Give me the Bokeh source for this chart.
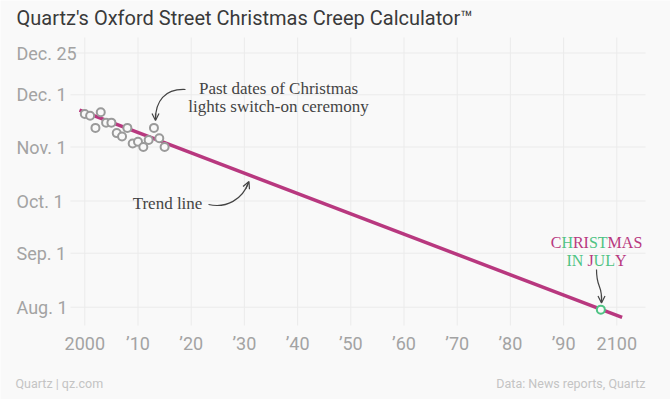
from bokeh.plotting import figure
from bokeh.models import ColumnDataSource, Range1d, Arrow, OpenHead
from bokeh.core.properties import value
from bokeh.embed import file_html
from bokeh.resources import INLINE

# ---------------- data ----------------
years = list(range(2000, 2016))
# day of year (non-leap) of the Oxford Street lights switch-on ceremony
switch_on_day = [324, 323, 316, 325, 319, 319, 313, 311, 316, 307, 308, 305, 309, 316, 310, 305]

trend_years = [1999, 2101]
trend_days = [326.2, 207.1]

july_year = [2097]
july_day = [211.6]

x_ticks = [2000, 2010, 2020, 2030, 2040, 2050, 2060, 2070, 2080, 2090, 2100]
x_tick_labels = ["2000", "\u201910", "\u201920", "\u201930", "\u201940", "\u201950",
                 "\u201960", "\u201970", "\u201980", "\u201990", "2100"]
y_ticks = [213, 244, 274, 305, 335, 359]
y_tick_labels = ["Aug. 1", "Sep. 1", "Oct. 1", "Nov. 1", "Dec. 1", "Dec. 25"]

letters1 = list("CHRISTMAS")
colors1 = ["p", "g", "p", "p", "g", "g", "p", "p", "p"]
letters2 = list("IN JULY")
colors2 = ["g", "g", "g", "p", "g", "g", "p"]

# ---------------- style ----------------
BG = "#f9f9f9"
PINK = "#b8387f"
GREEN = "#4fc384"
GREY_PT = "#9a9a9a"
TXT = "#444444"
TICK = "#a3a3a3"
GRID = "#ebebeb"
SERIF = "Liberation Serif"
W, H = 670, 399


# page-pixel -> data helpers for annotation placement
def dx(px):
    return 2000 + (px - 84.3) / 5.32


def dy(py):
    return 335 - (py - 94.3) / 1.741


p = figure(width=W, height=H, output_backend="svg", toolbar_location=None,
           x_range=Range1d(dx(0), dx(W)), y_range=Range1d(dy(H), dy(0)),
           x_axis_location=None, y_axis_location=None,
           min_border=0, min_border_left=0, min_border_right=0,
           min_border_top=0, min_border_bottom=0)
p.background_fill_color = BG
p.border_fill_color = BG
p.outline_line_color = None
p.xgrid.visible = False
p.ygrid.visible = False

# grid lines over the plotting area
p.segment(x0=x_ticks, x1=x_ticks, y0=[dy(325)] * len(x_ticks), y1=[dy(37)] * len(x_ticks),
          line_color=GRID, line_width=1)
p.segment(x0=[dx(70)] * len(y_ticks), x1=[dx(645)] * len(y_ticks), y0=y_ticks, y1=y_ticks,
          line_color=GRID, line_width=1)

# tick labels
p.text(x=x_ticks, y=[dy(343)] * len(x_ticks), text=x_tick_labels,
       text_font=value("Roboto"), text_font_size="18px", text_color=TICK,
       text_align="center", text_baseline="middle")
p.text(x=[dx(16)] * len(y_ticks), y=y_ticks, text=y_tick_labels,
       text_font=value("Roboto"), text_font_size="18px", text_color=TICK,
       text_align="left", text_baseline="middle")

# trend line
p.line(trend_years, trend_days, line_color=PINK, line_width=3.5)

# past dates
src = ColumnDataSource(dict(year=years, day=switch_on_day))
p.scatter("year", "day", source=src, size=8, line_color=GREY_PT, line_width=2, fill_color=BG)

# christmas in july point
p.scatter(july_year, july_day, size=8, line_color=GREEN, line_width=2, fill_color=BG)

# ---------------- annotations ----------------
p.text(x=[dx(278), dx(278)], y=[dy(88), dy(106)],
       text=["Past dates of Christmas", "lights switch-on ceremony"],
       text_font=value(SERIF), text_font_size="17px", text_color=TXT,
       text_align="center", text_baseline="middle")
p.bezier(x0=[dx(185)], y0=[dy(89)], x1=[dx(155)], y1=[dy(119)],
         cx0=[dx(164)], cy0=[dy(88)], cx1=[dx(155)], cy1=[dy(101)],
         line_color=TXT, line_width=1.2)
p.add_layout(Arrow(x_start=dx(155), y_start=dy(113), x_end=dx(155), y_end=dy(120),
                   line_color=TXT, line_width=1.2,
                   end=OpenHead(size=7, line_color=TXT, line_width=1.2)))

p.text(x=[dx(167)], y=[dy(203)], text=["Trend line"],
       text_font=value(SERIF), text_font_size="17px", text_color=TXT,
       text_align="center", text_baseline="middle")
p.bezier(x0=[dx(208)], y0=[dy(204)], x1=[dx(248)], y1=[dy(182)],
         cx0=[dx(226)], cy0=[dy(208)], cx1=[dx(242)], cy1=[dy(199)],
         line_color=TXT, line_width=1.2)
p.add_layout(Arrow(x_start=dx(245.5), y_start=dy(188), x_end=dx(248.5), y_end=dy(181),
                   line_color=TXT, line_width=1.2,
                   end=OpenHead(size=7, line_color=TXT, line_width=1.2)))

# CHRISTMAS IN JULY with alternating letter colours (Times metrics)
adv = {"C": 667, "H": 722, "R": 667, "I": 333, "S": 556, "T": 611, "M": 889, "A": 722,
       " ": 250, "N": 722, "J": 389, "U": 722, "L": 611, "Y": 722}
fs = 16.0


def letter_rows(letters, cols, py):
    total = sum(adv[c] for c in letters) * fs / 1000
    offs, cum = [], 0.0
    for c in letters:
        offs.append(cum - total / 2)
        cum += adv[c] * fs / 1000
    return dict(x=[dx(596)] * len(letters), y=[dy(py)] * len(letters), text=letters,
                xo=offs, color=[PINK if k == "p" else GREEN for k in cols])


for letters, cols, py in [(letters1, colors1, 242), (letters2, colors2, 259.5)]:
    s = ColumnDataSource(letter_rows(letters, cols, py))
    p.text(x="x", y="y", text="text", x_offset="xo", text_color="color", source=s,
           text_font=value(SERIF), text_font_size="16px",
           text_align="left", text_baseline="middle")

p.bezier(x0=[dx(596)], y0=[dy(269)], x1=[dx(601)], y1=[dy(302)],
         cx0=[dx(596)], cy0=[dy(289)], cx1=[dx(602)], cy1=[dy(283)],
         line_color=TXT, line_width=1.2)
p.add_layout(Arrow(x_start=dx(601), y_start=dy(295), x_end=dx(601), y_end=dy(302.5),
                   line_color=TXT, line_width=1.2,
                   end=OpenHead(size=7, line_color=TXT, line_width=1.2)))

# title and footer
p.text(x=[dx(16)], y=[dy(17)], text=["Quartz's Oxford Street Christmas Creep Calculator\u2122"],
       text_font=value("Roboto"), text_font_size="20px", text_color="#3a3a3a",
       text_align="left", text_baseline="middle")
p.text(x=[dx(15)], y=[dy(383)], text=["Quartz | qz.com"],
       text_font=value("Roboto"), text_font_size="12.5px", text_color="#c4c4c4",
       text_align="left", text_baseline="middle")
p.text(x=[dx(645)], y=[dy(383)], text=["Data: News reports, Quartz"],
       text_font=value("Roboto"), text_font_size="12.5px", text_color="#c4c4c4",
       text_align="right", text_baseline="middle")

open("out.html", "w").write(file_html(p, INLINE))
